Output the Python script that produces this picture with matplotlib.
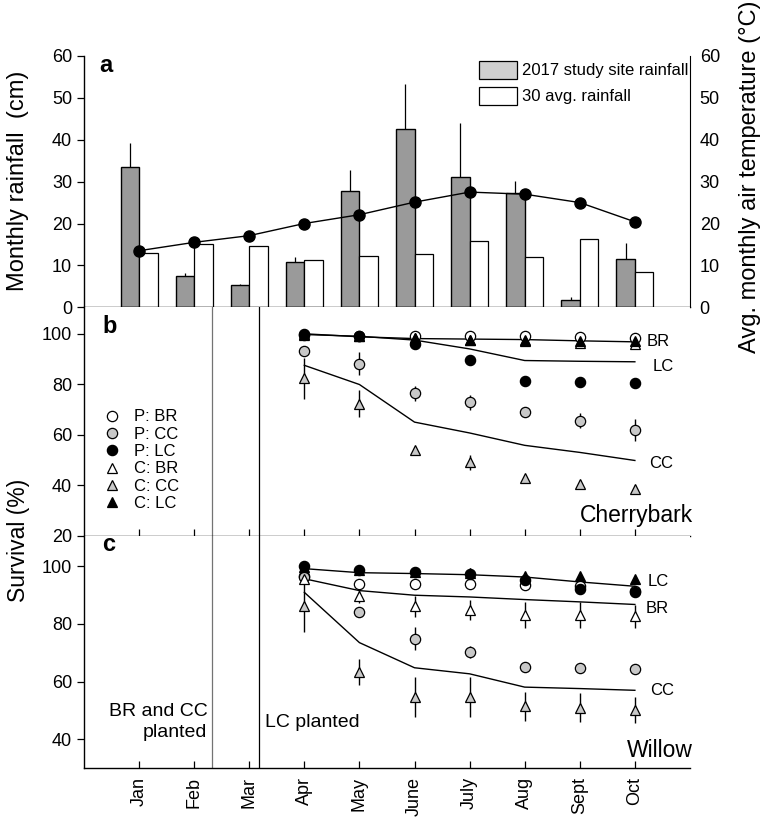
import matplotlib
matplotlib.use('Agg')
import matplotlib.pyplot as plt
from matplotlib.lines import Line2D
from matplotlib.patches import Patch
import numpy as np

plt.rcParams['font.family'] = ['Liberation Sans', 'DejaVu Sans']

# ---------------- data ----------------
months = ['Jan', 'Feb', 'Mar', 'Apr', 'May', 'June', 'July', 'Aug', 'Sept', 'Oct']
rain_2017 = [33.4, 7.4, 5.3, 10.7, 27.8, 42.5, 31.0, 27.4, 1.8, 11.5]
rain_2017_err = [5.8, 0.7, 0.3, 1.2, 4.9, 10.7, 13.1, 2.8, 0.7, 3.8]
rain_30yr = [12.9, 15.0, 14.7, 11.3, 12.2, 12.7, 15.9, 12.1, 16.4, 8.4]
temp = [13.5, 15.5, 17.1, 20.0, 22.1, 25.1, 27.5, 27.0, 25.0, 20.4]

surv_months = ['Apr', 'May', 'June', 'July', 'Aug', 'Sept', 'Oct']

# Cherrybark (panel b)
b_P_BR = [99.5, 99.0, 99.0, 99.0, 99.3, 98.8, 98.4]
b_P_CC = [93.1, 88.2, 76.4, 72.8, 69.0, 65.6, 61.9]
b_P_LC = [100.0, 99.3, 96.0, 89.8, 81.1, 80.8, 80.4]
b_C_BR = [99.5, 99.0, 98.3, 97.5, 97.0, 96.5, 95.8]
b_C_CC = [82.3, 72.3, 54.0, 49.0, 42.8, 40.5, 38.4]
b_C_LC = [100.0, 99.0, 98.5, 97.7, 97.6, 97.3, 97.0]
b_P_CC_err = [1.0, 4.7, 3.0, 3.0, 1.0, 3.0, 4.5]
b_C_CC_err = [8.0, 5.3, 1.0, 3.0, 1.0, 1.5, 1.5]
b_line_BR = [100.0, 98.8, 98.1, 97.9, 97.7, 97.2, 96.8]
b_line_LC = [99.7, 99.0, 97.5, 94.0, 89.4, 89.1, 88.9]
b_line_CC = [87.5, 79.9, 65.0, 60.7, 55.8, 53.0, 49.8]

# Willow (panel c)
c_P_BR = [96.5, 93.8, 93.8, 93.8, 93.6, 93.0, 91.5]
c_P_CC = [96.3, 84.2, 74.8, 70.2, 65.0, 64.8, 64.4]
c_P_LC = [100.0, 98.5, 97.8, 97.4, 95.3, 92.2, 90.9]
c_C_BR = [95.6, 89.8, 86.0, 84.9, 82.9, 82.9, 82.6]
c_C_CC = [86.3, 63.4, 54.7, 54.7, 51.5, 51.0, 50.3]
c_C_LC = [99.5, 98.7, 98.1, 97.7, 96.5, 96.5, 95.6]
c_P_CC_err = [1.0, 1.5, 4.0, 2.0, 0.0, 0.0, 0.0]
c_C_BR_err = [1.0, 2.5, 3.5, 3.5, 4.5, 4.5, 4.0]
c_C_CC_err = [9.0, 4.5, 7.0, 7.0, 5.0, 5.0, 4.5]
c_line_LC = [99.1, 97.7, 97.4, 97.0, 96.2, 94.5, 93.0]
c_line_BR = [95.6, 91.5, 89.9, 89.3, 88.4, 87.6, 86.7]
c_line_CC = [90.9, 73.5, 64.8, 62.7, 58.1, 57.6, 57.0]

planting_x = [2.33, 3.18]
planting_colors = ['0.45', 'black']

# ---------------- figure ----------------
x = np.arange(1, len(months) + 1)
xs = np.array([months.index(m) + 1 for m in surv_months])

fig = plt.figure(figsize=(7.64, 8.22), dpi=100)
L, R = 0.1099, 0.9031
W = R - L
axa = fig.add_axes([L, 0.6262, W, 0.9319 - 0.6262])
axb = fig.add_axes([L, 0.3483, W, 0.6262 - 0.3483])
axc = fig.add_axes([L, 0.0653, W, 0.3483 - 0.0653])

GRAY_BAR = '#9a9a9a'
GRAY_MK = '#c8c8c8'
bw = 0.335

# ---- panel a ----
axa.bar(x - bw / 2, rain_2017, bw, color=GRAY_BAR, edgecolor='black', linewidth=1.0, zorder=2)
axa.errorbar(x - bw / 2, rain_2017, yerr=[np.zeros(len(x)), rain_2017_err], fmt='none',
             ecolor='black', elinewidth=0.9, capsize=0, zorder=1)
axa.bar(x + bw / 2, rain_30yr, bw, color='white', edgecolor='black', linewidth=0.9, zorder=2)
axa.set_xlim(0, 11)
axa.set_ylim(0, 60)
axa.set_yticks(range(0, 61, 10))
axa.set_xticks(x)
axa.set_xticklabels([])
axa.tick_params(axis='x', direction='out', length=5, width=0.9)
axa.tick_params(axis='y', direction='out', length=5, width=0.9, labelsize=13)
axa.spines['top'].set_visible(False)
axa.spines['right'].set_visible(False)

axt = axa.twinx()
axt.plot(x, temp, '-o', color='black', lw=1.0, ms=8, zorder=5)
axt.set_ylim(0, 60)
axt.set_yticks(range(0, 61, 10))
axt.tick_params(axis='y', direction='out', length=0, pad=7, labelsize=13)
axt.spines['top'].set_visible(False)
axt.spines['left'].set_visible(False)
axt.spines['bottom'].set_visible(False)
axt.set_xlim(0, 11)

handles = [Patch(facecolor='#d0d0d0', edgecolor='black', linewidth=0.9),
           Patch(facecolor='white', edgecolor='black', linewidth=0.9)]
axa.legend(handles, ['2017 study site rainfall', '30 avg. rainfall'], loc='upper left',
           bbox_to_anchor=(0.652, 0.98), frameon=False, fontsize=12, handlelength=2.3,
           handleheight=1.25, handletextpad=0.25, labelspacing=0.5, borderpad=0,
           borderaxespad=0)
axa.text(0.026, 0.936, 'a', transform=axa.transAxes, fontsize=17, fontweight='bold', va='baseline')

for ax in (axa, axb, axc):
    for s in ax.spines.values():
        s.set_linewidth(1.0)

# ---- survival panels ----
MS = 7.4
def draw_panel(ax, P_BR, P_CC, P_LC, C_BR, C_CC, C_LC, errs, lines):
    for ln in lines:
        ax.plot(xs, ln, color='black', lw=1.0, zorder=2)
    for yv, e in errs:
        ax.errorbar(xs, yv, yerr=e, fmt='none', ecolor='black', elinewidth=1.0, capsize=0, zorder=3)
    ax.plot(xs, P_BR, 'o', ms=MS, mfc='white', mec='black', mew=0.9, zorder=4)
    ax.plot(xs, P_CC, 'o', ms=MS, mfc=GRAY_MK, mec='black', mew=0.9, zorder=4)
    ax.plot(xs, C_BR, '^', ms=MS, mfc='white', mec='black', mew=0.9, zorder=4)
    ax.plot(xs, C_CC, '^', ms=MS, mfc=GRAY_MK, mec='black', mew=0.9, zorder=4)
    ax.plot(xs, C_LC, '^', ms=MS, mfc='black', mec='black', mew=0.9, zorder=5)
    ax.plot(xs, P_LC, 'o', ms=MS, mfc='black', mec='black', mew=0.9, zorder=5)
    for px, pc in zip(planting_x, planting_colors):
        ax.axvline(px, color=pc, lw=0.9, zorder=1)
    ax.set_xlim(0, 11)
    ax.set_xticks(x)
    ax.spines['top'].set_visible(False)
    ax.spines['right'].set_visible(False)
    ax.tick_params(axis='x', direction='in', length=5, width=0.9)
    ax.tick_params(axis='y', direction='out', length=5, width=0.9, labelsize=13)

draw_panel(axb, b_P_BR, b_P_CC, b_P_LC, b_C_BR, b_C_CC, b_C_LC,
           [(b_P_CC, b_P_CC_err), (b_C_CC, b_C_CC_err)],
           [b_line_BR, b_line_LC, b_line_CC])
axb.set_ylim(20, 110.5)
axb.set_yticks([20, 40, 60, 80, 100])
axb.set_xticklabels([])
axb.text(0.03, 0.887, 'b', transform=axb.transAxes, fontsize=17, fontweight='bold', va='baseline')
axb.text(10.22, b_line_BR[-1] + 0.3, 'BR', fontsize=12, va='center', ha='left')
axb.text(10.33, b_line_LC[-1] - 1.8, 'LC', fontsize=12, va='center', ha='left')
axb.text(10.25, b_line_CC[-1] - 1.0, 'CC', fontsize=12, va='center', ha='left')
axb.text(1.005, 0.06, 'Cherrybark', transform=axb.transAxes, fontsize=16.5, ha='right', va='baseline')

leg_handles = [
    Line2D([], [], ls='none', marker='o', ms=MS, mfc='white', mec='black', mew=0.9),
    Line2D([], [], ls='none', marker='o', ms=MS, mfc=GRAY_MK, mec='black', mew=0.9),
    Line2D([], [], ls='none', marker='o', ms=MS, mfc='black', mec='black', mew=0.9),
    Line2D([], [], ls='none', marker='^', ms=MS, mfc='white', mec='black', mew=0.9),
    Line2D([], [], ls='none', marker='^', ms=MS, mfc=GRAY_MK, mec='black', mew=0.9),
    Line2D([], [], ls='none', marker='^', ms=MS, mfc='black', mec='black', mew=0.9),
]
leg_labels = ['P: BR', 'P: CC', 'P: LC', 'C: BR', 'C: CC', 'C: LC']
axb.legend(leg_handles, leg_labels, loc='upper left', bbox_to_anchor=(0.033, 0.553),
           frameon=False, fontsize=12, handlelength=1.0, handletextpad=0.8,
           labelspacing=0.14, borderpad=0, borderaxespad=0)

draw_panel(axc, c_P_BR, c_P_CC, c_P_LC, c_C_BR, c_C_CC, c_C_LC,
           [(c_P_CC, c_P_CC_err), (c_C_BR, c_C_BR_err), (c_C_CC, c_C_CC_err)],
           [c_line_LC, c_line_BR, c_line_CC])
axc.set_ylim(30, 110.5)
axc.set_yticks([40, 60, 80, 100])
axc.set_xticklabels(months, rotation=90, fontsize=13)
axc.tick_params(axis='x', pad=6)
axc.text(0.03, 0.934, 'c', transform=axc.transAxes, fontsize=17, fontweight='bold', va='baseline')
axc.text(10.24, c_line_LC[-1] + 1.8, 'LC', fontsize=12, va='center', ha='left')
axc.text(10.2, c_line_BR[-1] - 1.5, 'BR', fontsize=12, va='center', ha='left')
axc.text(10.28, c_line_CC[-1], 'CC', fontsize=12, va='center', ha='left')
axc.text(1.005, 0.049, 'Willow', transform=axc.transAxes, fontsize=16.5, ha='right', va='baseline')
axc.text(planting_x[0] - 0.09, 46.0, 'BR and CC\nplanted', fontsize=14, ha='right', va='center',
         multialignment='right', linespacing=1.3)
axc.text(planting_x[1] + 0.1, 46.0, 'LC planted', fontsize=14, ha='left', va='center')

# axis labels
fig.text(0.024, 0.78, 'Monthly rainfall  (cm)', rotation=90, fontsize=17, ha='center', va='center')
fig.text(0.024, 0.343, 'Survival (%)', rotation=90, fontsize=16.5, ha='center', va='center')
fig.text(0.982, 0.785, 'Avg. monthly air temperature (\u00b0C)', rotation=90, fontsize=17,
         ha='center', va='center')

fig.savefig('out.png', dpi=100)
